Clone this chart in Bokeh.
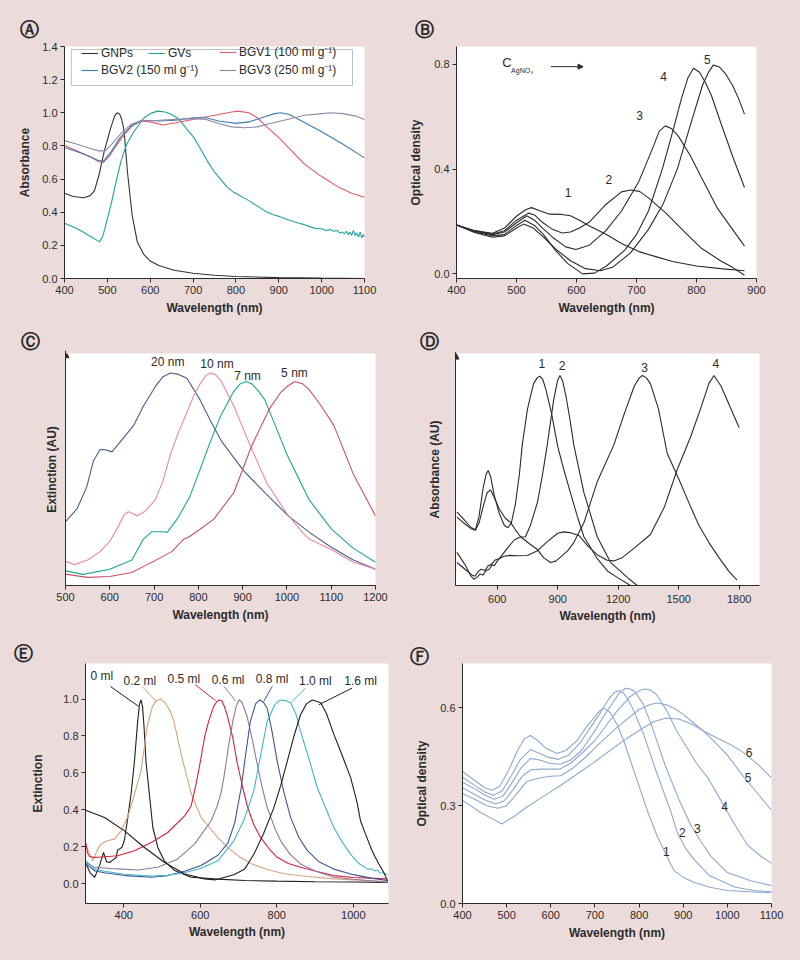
from bokeh.plotting import figure
from bokeh.layouts import column, row
from bokeh.models import (FixedTicker, NumeralTickFormatter, Legend, LegendItem,
                          Arrow, NormalHead, BoxAnnotation, Range1d)
from bokeh.embed import file_html
from bokeh.resources import INLINE
from bokeh.core.properties import value

FONT = "Liberation Sans"
BG = "#ecdbdb"
AX = "#2b2b2b"

# ---------------- Panel A ----------------
a_gnp_x = [400, 420, 445, 460, 470, 480, 493, 508, 517, 521, 525, 529, 533, 537, 540, 547, 558, 570, 585, 600, 620, 656, 700, 750, 800, 900, 1000, 1100]
a_gnp_y = [0.515, 0.495, 0.487, 0.50, 0.53, 0.62, 0.77, 0.91, 0.98, 0.995, 1.0, 0.99, 0.965, 0.92, 0.86, 0.64, 0.38, 0.22, 0.145, 0.105, 0.078, 0.05, 0.032, 0.02, 0.012, 0.005, 0.002, 0.0]
a_gv_x = [400, 430, 460, 482, 490, 498, 508, 520, 532, 545, 563, 586, 600, 617, 635, 650, 662, 671, 686, 702, 718, 733, 748, 764, 780, 795, 803, 812, 820, 830, 842, 852, 860, 873, 888, 900, 915, 927, 945, 960, 975, 989, 1000, 1010, 1020, 1028, 1036, 1042, 1048, 1053, 1058, 1062, 1066, 1070, 1074, 1078, 1082, 1086, 1090, 1094, 1097, 1100]
a_gv_y = [0.333, 0.30, 0.255, 0.221, 0.26, 0.34, 0.44, 0.58, 0.71, 0.81, 0.89, 0.97, 0.995, 1.01, 1.005, 0.99, 0.97, 0.95, 0.90, 0.85, 0.78, 0.71, 0.65, 0.60, 0.55, 0.52, 0.51, 0.495, 0.485, 0.47, 0.45, 0.435, 0.42, 0.40, 0.385, 0.375, 0.36, 0.35, 0.335, 0.325, 0.31, 0.30, 0.30, 0.29, 0.295, 0.285, 0.29, 0.275, 0.28, 0.27, 0.285, 0.265, 0.28, 0.26, 0.29, 0.26, 0.275, 0.25, 0.28, 0.245, 0.265, 0.25]
a_b1_x = [400, 430, 460, 480, 490, 505, 520, 540, 560, 580, 600, 630, 660, 690, 720, 760, 790, 805, 830, 850, 870, 900, 930, 960, 1000, 1040, 1070, 1100]
a_b1_y = [0.803, 0.77, 0.735, 0.705, 0.70, 0.74, 0.80, 0.87, 0.925, 0.95, 0.945, 0.926, 0.94, 0.955, 0.97, 0.99, 1.005, 1.01, 1.0, 0.97, 0.92, 0.85, 0.77, 0.69, 0.615, 0.55, 0.515, 0.49]
a_b2_x = [400, 430, 460, 480, 492, 510, 530, 555, 580, 620, 660, 700, 730, 760, 800, 830, 860, 890, 905, 925, 950, 1000, 1050, 1100]
a_b2_y = [0.79, 0.765, 0.735, 0.71, 0.71, 0.77, 0.85, 0.92, 0.955, 0.95, 0.955, 0.97, 0.97, 0.95, 0.936, 0.945, 0.97, 0.995, 1.0, 0.99, 0.955, 0.885, 0.81, 0.728]
a_b3_x = [400, 430, 460, 480, 495, 510, 530, 555, 580, 620, 660, 700, 730, 760, 790, 820, 850, 880, 920, 960, 1000, 1020, 1050, 1080, 1100]
a_b3_y = [0.832, 0.81, 0.785, 0.77, 0.77, 0.81, 0.87, 0.93, 0.952, 0.955, 0.96, 0.965, 0.96, 0.935, 0.915, 0.91, 0.915, 0.935, 0.96, 0.985, 0.995, 1.0, 0.995, 0.98, 0.96]
a_names = ["GNPs", "GVs", "BGV1 (100 ml g\u207b\u00b9)", "BGV2 (150 ml g\u207b\u00b9)", "BGV3 (250 ml g\u207b\u00b9)"]
a_colors = ["#333333", "#23a0a0", "#e05a68", "#3f7db0", "#8f88a6"]
a_yticks = [0.0, 0.2, 0.4, 0.6, 0.8, 1.0, 1.2, 1.4]
a_xticks = [400, 500, 600, 700, 800, 900, 1000, 1100]

# ---------------- Panel B ----------------
b1_x = [400, 430, 460, 480, 500, 515, 525, 540, 555, 575, 590, 605, 620, 650, 675, 704, 732, 760, 800, 840, 880]
b1_y = [0.187, 0.165, 0.155, 0.175, 0.22, 0.245, 0.253, 0.24, 0.228, 0.227, 0.222, 0.205, 0.185, 0.15, 0.116, 0.085, 0.066, 0.047, 0.03, 0.02, 0.012]
b2_x = [400, 430, 460, 480, 500, 520, 530, 543, 560, 576, 590, 605, 621, 649, 675, 690, 705, 720, 750, 780, 807, 840, 860, 880]
b2_y = [0.187, 0.165, 0.152, 0.165, 0.205, 0.232, 0.225, 0.197, 0.17, 0.156, 0.16, 0.175, 0.197, 0.265, 0.313, 0.32, 0.315, 0.29, 0.23, 0.16, 0.10, 0.05, 0.025, -0.005]
b3_x = [400, 430, 460, 480, 500, 517, 530, 543, 560, 582, 599, 621, 649, 675, 704, 727, 738, 748, 758, 770, 790, 810, 835, 860, 880]
b3_y = [0.187, 0.163, 0.15, 0.16, 0.195, 0.222, 0.205, 0.176, 0.14, 0.103, 0.093, 0.109, 0.165, 0.24, 0.353, 0.48, 0.545, 0.565, 0.555, 0.525, 0.45, 0.36, 0.25, 0.17, 0.106]
b4_x = [400, 430, 460, 480, 500, 514, 530, 545, 565, 585, 610, 630, 650, 680, 700, 720, 743, 760, 775, 786, 795, 805, 815, 825, 840, 860, 880]
b4_y = [0.187, 0.16, 0.145, 0.15, 0.185, 0.205, 0.185, 0.15, 0.09, 0.04, 0.0, 0.003, 0.03, 0.09, 0.15, 0.24, 0.40, 0.54, 0.67, 0.75, 0.785, 0.77, 0.73, 0.68, 0.58, 0.45, 0.33]
b5_x = [400, 430, 460, 480, 500, 512, 528, 545, 565, 590, 615, 640, 660, 690, 720, 745, 768, 790, 810, 820, 828, 838, 848, 860, 870, 880]
b5_y = [0.187, 0.158, 0.14, 0.145, 0.175, 0.19, 0.175, 0.14, 0.095, 0.05, 0.02, 0.012, 0.025, 0.08, 0.17, 0.27, 0.40, 0.57, 0.72, 0.77, 0.797, 0.79, 0.765, 0.72, 0.67, 0.61]
b_lab_text = ["1", "2", "3", "4", "5"]
b_lab_x = [586, 654, 705, 745, 818]
b_lab_y = [0.311, 0.361, 0.606, 0.755, 0.82]
b_yticks = [0.0, 0.4, 0.8]
b_xticks = [400, 500, 600, 700, 800, 900]

# ---------------- Panel C ----------------
c20_x = [500, 526, 548, 563, 578, 590, 605, 624, 654, 676, 703, 720, 737, 755, 774, 804, 830, 853, 902, 950, 1003, 1050, 1100, 1150, 1200]
c20_y = [0.275, 0.33, 0.425, 0.537, 0.586, 0.585, 0.576, 0.62, 0.69, 0.774, 0.858, 0.90, 0.916, 0.91, 0.893, 0.80, 0.70, 0.62, 0.495, 0.40, 0.30, 0.23, 0.165, 0.11, 0.07]
c10_x = [500, 520, 550, 578, 600, 616, 633, 642, 652, 661, 680, 703, 720, 737, 755, 774, 790, 804, 817, 827, 838, 850, 880, 920, 955, 1000, 1030, 1050, 1100, 1150, 1200]
c10_y = [0.105, 0.09, 0.11, 0.146, 0.19, 0.244, 0.307, 0.318, 0.31, 0.30, 0.32, 0.37, 0.45, 0.565, 0.66, 0.746, 0.82, 0.87, 0.905, 0.916, 0.91, 0.886, 0.774, 0.59, 0.44, 0.31, 0.24, 0.20, 0.155, 0.10, 0.07]
c7_x = [500, 540, 600, 650, 676, 695, 712, 730, 752, 780, 800, 825, 850, 880, 895, 908, 920, 935, 950, 980, 1000, 1050, 1100, 1150, 1200]
c7_y = [0.063, 0.048, 0.07, 0.11, 0.20, 0.232, 0.232, 0.23, 0.286, 0.38, 0.48, 0.61, 0.73, 0.837, 0.87, 0.879, 0.87, 0.84, 0.80, 0.66, 0.565, 0.37, 0.244, 0.16, 0.10]
c5_x = [500, 550, 600, 650, 684, 700, 740, 767, 775, 800, 835, 880, 920, 960, 985, 1000, 1017, 1035, 1050, 1075, 1106, 1150, 1200]
c5_y = [0.049, 0.035, 0.039, 0.056, 0.09, 0.105, 0.146, 0.20, 0.205, 0.237, 0.286, 0.40, 0.60, 0.76, 0.83, 0.857, 0.879, 0.87, 0.844, 0.78, 0.69, 0.48, 0.30]
c_colors = ["#4d5b8c", "#e58aa0", "#1fa58c", "#c8506c"]
c_lab_text = ["20 nm", "10 nm", "7 nm", "5 nm"]
c_lab_x = [731, 842, 911, 1017]
c_lab_y = [0.962, 0.953, 0.902, 0.918]
c_xticks = [500, 600, 700, 800, 900, 1000, 1100, 1200]

# ---------------- Panel D ----------------
d1_x = [400, 440, 470, 492, 510, 530, 545, 555, 567, 585, 610, 635, 653, 670, 690, 710, 724, 750, 780, 798, 811, 825, 840, 870, 900, 930, 963, 1000, 1030, 1096, 1150, 1195, 1261]
d1_y = [0.317, 0.28, 0.25, 0.24, 0.30, 0.42, 0.48, 0.496, 0.47, 0.39, 0.31, 0.26, 0.249, 0.27, 0.35, 0.48, 0.605, 0.76, 0.87, 0.895, 0.902, 0.89, 0.85, 0.74, 0.60, 0.50, 0.40, 0.29, 0.21, 0.116, 0.06, 0.035, 0.0]
d2_x = [400, 440, 470, 484, 500, 515, 530, 545, 560, 575, 585, 600, 616, 650, 683, 710, 740, 765, 800, 825, 848, 880, 900, 911, 925, 940, 960, 980, 1030, 1096, 1162, 1245, 1294]
d2_y = [0.143, 0.09, 0.04, 0.027, 0.035, 0.05, 0.045, 0.065, 0.07, 0.09, 0.085, 0.105, 0.122, 0.16, 0.195, 0.208, 0.21, 0.26, 0.36, 0.48, 0.605, 0.80, 0.885, 0.905, 0.88, 0.82, 0.72, 0.605, 0.40, 0.21, 0.10, 0.035, 0.0]
d3_x = [400, 440, 470, 492, 510, 530, 550, 567, 585, 610, 640, 666, 690, 716, 760, 798, 830, 864, 890, 914, 950, 980, 1030, 1096, 1178, 1230, 1280, 1305, 1320, 1340, 1360, 1400, 1443, 1500, 1559, 1600, 1650, 1700, 1750, 1790]
d3_y = [0.295, 0.265, 0.245, 0.238, 0.27, 0.34, 0.40, 0.412, 0.38, 0.33, 0.29, 0.272, 0.24, 0.21, 0.18, 0.156, 0.12, 0.099, 0.105, 0.122, 0.15, 0.185, 0.27, 0.447, 0.605, 0.74, 0.86, 0.895, 0.905, 0.895, 0.87, 0.76, 0.57, 0.46, 0.34, 0.26, 0.185, 0.12, 0.06, 0.023]
d4_x = [400, 440, 475, 490, 505, 520, 540, 555, 570, 590, 610, 630, 660, 700, 749, 800, 850, 900, 930, 960, 1007, 1050, 1100, 1145, 1178, 1220, 1278, 1360, 1430, 1493, 1559, 1608, 1650, 1675, 1710, 1750, 1800]
d4_y = [0.099, 0.07, 0.045, 0.04, 0.06, 0.07, 0.065, 0.085, 0.09, 0.11, 0.115, 0.125, 0.13, 0.128, 0.129, 0.15, 0.19, 0.225, 0.231, 0.228, 0.214, 0.17, 0.13, 0.109, 0.106, 0.12, 0.16, 0.22, 0.34, 0.50, 0.64, 0.76, 0.87, 0.905, 0.86, 0.78, 0.68]
d_lab_text = ["1", "2", "3", "4"]
d_lab_x = [821, 922, 1331, 1684]
d_lab_y = [0.959, 0.948, 0.939, 0.955]
d_xticks = [600, 900, 1200, 1500, 1800]

# ---------------- Panel E ----------------
e00_x = [300, 312, 324, 337, 347, 355, 363, 372, 380, 384, 390, 396, 402, 410, 419, 428, 436, 441, 445, 449, 453, 458, 467, 476, 489, 506, 533, 576, 646, 716, 800, 900, 1000, 1090]
e00_y = [0.115, 0.06, 0.036, 0.10, 0.17, 0.12, 0.116, 0.13, 0.143, 0.183, 0.19, 0.20, 0.24, 0.35, 0.485, 0.664, 0.87, 0.97, 0.995, 0.96, 0.85, 0.664, 0.485, 0.305, 0.197, 0.125, 0.072, 0.036, 0.026, 0.018, 0.015, 0.012, 0.01, 0.008]
e02_x = [300, 305, 319, 330, 340, 356, 376, 393, 410, 428, 445, 461, 475, 485, 496, 508, 520, 531, 550, 565, 576, 602, 618, 646, 670, 700, 731, 780, 819, 880, 949, 1020, 1090]
e02_y = [0.21, 0.19, 0.125, 0.18, 0.215, 0.233, 0.242, 0.287, 0.36, 0.485, 0.61, 0.85, 0.96, 0.99, 1.0, 0.98, 0.94, 0.88, 0.70, 0.58, 0.49, 0.36, 0.32, 0.25, 0.20, 0.15, 0.11, 0.075, 0.055, 0.04, 0.027, 0.02, 0.013]
e05_x = [300, 302, 305, 310, 323, 350, 384, 428, 472, 515, 559, 576, 589, 600, 612, 622, 635, 643, 649, 656, 662, 670, 685, 697, 711, 723, 740, 758, 780, 801, 830, 862, 900, 949, 1000, 1089]
e05_y = [0.224, 0.21, 0.17, 0.15, 0.143, 0.147, 0.152, 0.179, 0.224, 0.278, 0.368, 0.42, 0.54, 0.66, 0.80, 0.88, 0.96, 0.985, 0.995, 0.99, 0.965, 0.916, 0.79, 0.65, 0.52, 0.42, 0.32, 0.25, 0.19, 0.144, 0.11, 0.09, 0.07, 0.045, 0.035, 0.027]
e06_x = [300, 323, 384, 437, 489, 541, 585, 628, 644, 654, 662, 672, 685, 694, 701, 708, 715, 723, 736, 749, 762, 775, 795, 810, 835, 862, 900, 949, 1000, 1089]
e06_y = [0.116, 0.09, 0.081, 0.075, 0.09, 0.135, 0.215, 0.34, 0.42, 0.49, 0.58, 0.72, 0.88, 0.96, 0.996, 0.985, 0.95, 0.90, 0.78, 0.646, 0.52, 0.413, 0.30, 0.233, 0.16, 0.108, 0.07, 0.036, 0.025, 0.009]
e08_x = [300, 325, 350, 402, 472, 515, 559, 602, 646, 672, 690, 707, 720, 731, 745, 756, 766, 775, 788, 801, 818, 836, 858, 880, 910, 949, 1000, 1050, 1089]
e08_y = [0.11, 0.07, 0.06, 0.045, 0.036, 0.045, 0.068, 0.10, 0.155, 0.22, 0.33, 0.52, 0.72, 0.88, 0.975, 0.995, 0.98, 0.95, 0.82, 0.664, 0.50, 0.36, 0.25, 0.18, 0.12, 0.08, 0.05, 0.03, 0.018]
e10_x = [300, 325, 350, 402, 472, 515, 559, 602, 646, 688, 715, 740, 760, 775, 795, 805, 814, 825, 836, 850, 862, 885, 906, 930, 949, 970, 993, 1015, 1037, 1050, 1055, 1063, 1070, 1080, 1090]
e10_y = [0.125, 0.08, 0.068, 0.052, 0.042, 0.047, 0.06, 0.085, 0.125, 0.233, 0.35, 0.503, 0.72, 0.88, 0.97, 0.99, 0.995, 0.99, 0.98, 0.92, 0.826, 0.67, 0.52, 0.40, 0.305, 0.23, 0.16, 0.11, 0.08, 0.08, 0.07, 0.075, 0.06, 0.058, 0.05]
e16_x = [300, 350, 402, 454, 507, 559, 611, 640, 688, 716, 740, 765, 792, 810, 827, 845, 862, 878, 893, 915, 930, 949, 970, 993, 1010, 1019, 1030, 1045, 1056, 1067, 1080, 1090]
e16_y = [0.398, 0.359, 0.287, 0.197, 0.116, 0.054, 0.027, 0.022, 0.05, 0.08, 0.16, 0.27, 0.41, 0.53, 0.66, 0.80, 0.915, 0.975, 0.995, 0.98, 0.92, 0.81, 0.70, 0.575, 0.44, 0.34, 0.28, 0.20, 0.15, 0.108, 0.06, 0.015]
e_names = ["0 ml", "0.2 ml", "0.5 ml", "0.6 ml", "0.8 ml", "1.0 ml", "1.6 ml"]
e_colors = ["#1e1e1e", "#d9a27e", "#d8223c", "#8e78a2", "#3b5596", "#45b6c6", "#1e1e1e"]
e_lab_x = [343, 442, 557, 673, 788, 901, 1019]
e_lab_y = [1.122, 1.095, 1.11, 1.104, 1.11, 1.099, 1.095]
e_lead_x0 = [365, 448, 587, 662, 788, 875, 997]
e_lead_y0 = [1.068, 1.068, 1.077, 1.068, 1.068, 1.059, 1.059]
e_lead_x1 = [439, 483, 640, 692, 766, 836, 910]
e_lead_y1 = [0.96, 0.991, 0.991, 0.991, 0.987, 0.978, 0.969]
e_yticks = [0.0, 0.2, 0.4, 0.6, 0.8, 1.0]
e_xticks = [400, 600, 800, 1000]

# ---------------- Panel F ----------------
f1_x = [400, 430, 450, 467, 485, 505, 525, 540, 554, 570, 590, 614, 635, 660, 680, 697, 710, 720, 735, 750, 765, 780, 800, 820, 840, 856, 870, 880, 900, 924, 960, 1000, 1050, 1100]
f1_y = [0.405, 0.375, 0.355, 0.347, 0.36, 0.41, 0.47, 0.505, 0.515, 0.50, 0.475, 0.46, 0.47, 0.50, 0.54, 0.568, 0.59, 0.60, 0.585, 0.55, 0.50, 0.44, 0.36, 0.28, 0.21, 0.165, 0.125, 0.10, 0.08, 0.065, 0.05, 0.04, 0.036, 0.033]
f2_x = [400, 430, 450, 470, 490, 510, 530, 554, 575, 595, 618, 640, 665, 690, 710, 730, 745, 754, 765, 775, 785, 810, 840, 870, 887, 905, 924, 960, 1018, 1060, 1100]
f2_y = [0.387, 0.36, 0.342, 0.332, 0.345, 0.39, 0.44, 0.472, 0.46, 0.448, 0.442, 0.455, 0.49, 0.54, 0.58, 0.625, 0.648, 0.653, 0.645, 0.625, 0.60, 0.52, 0.40, 0.29, 0.216, 0.17, 0.136, 0.085, 0.05, 0.04, 0.036]
f3_x = [400, 430, 450, 472, 492, 512, 532, 554, 575, 597, 620, 645, 670, 700, 720, 740, 755, 769, 780, 790, 810, 830, 860, 890, 917, 940, 962, 1000, 1053, 1100]
f3_y = [0.372, 0.35, 0.333, 0.32, 0.33, 0.37, 0.415, 0.445, 0.44, 0.43, 0.427, 0.44, 0.47, 0.53, 0.575, 0.615, 0.645, 0.66, 0.658, 0.65, 0.61, 0.54, 0.42, 0.32, 0.241, 0.19, 0.146, 0.095, 0.07, 0.055]
f4_x = [400, 430, 450, 475, 495, 515, 535, 555, 580, 600, 620, 645, 670, 700, 725, 750, 780, 800, 811, 825, 840, 864, 885, 909, 930, 955, 985, 1015, 1045, 1076, 1100]
f4_y = [0.355, 0.333, 0.318, 0.305, 0.315, 0.35, 0.39, 0.41, 0.412, 0.412, 0.412, 0.43, 0.46, 0.50, 0.545, 0.59, 0.635, 0.652, 0.658, 0.655, 0.64, 0.588, 0.53, 0.477, 0.43, 0.387, 0.317, 0.246, 0.18, 0.145, 0.123]
f5_x = [400, 430, 455, 480, 500, 525, 546, 575, 600, 622, 650, 680, 710, 750, 800, 825, 841, 860, 880, 900, 925, 947, 975, 1000, 1038, 1070, 1100]
f5_y = [0.337, 0.318, 0.30, 0.292, 0.30, 0.34, 0.375, 0.385, 0.39, 0.392, 0.415, 0.45, 0.49, 0.54, 0.595, 0.61, 0.615, 0.61, 0.598, 0.58, 0.552, 0.528, 0.49, 0.455, 0.387, 0.335, 0.286]
f6_x = [400, 440, 470, 489, 520, 546, 585, 622, 660, 697, 735, 773, 805, 834, 860, 890, 920, 947, 980, 1010, 1038, 1070, 1100]
f6_y = [0.317, 0.28, 0.258, 0.244, 0.27, 0.296, 0.33, 0.362, 0.397, 0.432, 0.47, 0.507, 0.535, 0.558, 0.568, 0.566, 0.55, 0.528, 0.505, 0.485, 0.462, 0.425, 0.385]
f_color = "#8ea8d2"
f_lab_text = ["1", "2", "3", "4", "5", "6"]
f_lab_x = [862, 898, 932, 994, 1047, 1049]
f_lab_y = [0.161, 0.219, 0.231, 0.296, 0.385, 0.462]
f_yticks = [0.0, 0.3, 0.6]
f_xticks = [400, 500, 600, 700, 800, 900, 1000, 1100]

CIRCLED = {"A": "\u24b6", "B": "\u24b7", "C": "\u24b8", "D": "\u24b9", "E": "\u24ba", "F": "\u24bb"}


def make_fig(w, h, xr, yr, left, right, top, bottom, letter, offset, standoff):
    p = figure(width=w, height=h, x_range=Range1d(*xr), y_range=Range1d(*yr),
               output_backend="svg", toolbar_location=None,
               min_border_left=left, min_border_right=right,
               min_border_top=top, min_border_bottom=bottom)
    p.title.text = CIRCLED[letter]
    p.title.text_font = "DejaVu Sans"
    p.title.text_font_size = "19px"
    p.title.text_font_style = "bold"
    p.title.text_color = AX
    p.title.align = "left"
    p.title.offset = offset
    p.title.standoff = standoff
    p.border_fill_color = BG
    p.background_fill_color = "white"
    p.outline_line_color = None
    p.xgrid.visible = False
    p.ygrid.visible = False
    for ax in p.axis:
        ax.axis_line_color = AX
        ax.major_tick_line_color = AX
        ax.major_tick_in = 0
        ax.major_tick_out = 4
        ax.minor_tick_line_color = None
        ax.major_label_text_font = FONT
        ax.major_label_text_font_size = "11px"
        ax.major_label_text_color = AX
        ax.major_label_standoff = 3
        ax.axis_label_text_font = FONT
        ax.axis_label_text_font_size = "12px"
        ax.axis_label_text_font_style = "bold"
        ax.axis_label_text_color = AX
        ax.axis_label_standoff = 4
    return p


def ticks(ax, vals, fmt=None):
    ax.ticker = FixedTicker(ticks=vals)
    if fmt:
        ax.formatter = NumeralTickFormatter(format=fmt)


def labels(p, xs, ys, texts, size="12px"):
    p.text(x=xs, y=ys, text=texts, text_font=value(FONT), text_font_size=size,
           text_color=AX, text_align="center", text_baseline="middle")


W = 392
LW = 1.1

# ---- A ----
pA = make_fig(W, 314, (400, 1100), (0, 1.4), 56, 36, 32, 44, "A", -45, 13)
ticks(pA.xaxis[0], a_xticks)
ticks(pA.yaxis[0], a_yticks, "0.0")
pA.xaxis.axis_label = "Wavelength (nm)"
pA.yaxis.axis_label = "Absorbance"
pA.yaxis.axis_label_standoff = 7
rA = []
for xs, ys, col in zip([a_gnp_x, a_gv_x, a_b1_x, a_b2_x, a_b3_x],
                       [a_gnp_y, a_gv_y, a_b1_y, a_b2_y, a_b3_y], a_colors):
    rA.append(pA.line(xs, ys, line_color=col, line_width=LW))
pA.add_layout(BoxAnnotation(left=416, right=1072, bottom=1.165, top=1.382,
                            fill_color="white", fill_alpha=1, line_color=AX, line_width=1))
common_leg = dict(orientation="horizontal", padding=0, margin=0, glyph_width=17, glyph_height=14,
                  label_height=14, label_standoff=3, label_text_font=FONT,
                  label_text_font_size="12px", label_text_color=AX,
                  background_fill_alpha=0, border_line_alpha=0, spacing=15)
# legend groups: (item indices, x offset in px from frame left, y offset from frame bottom)
leg_groups = [([0, 1], 17, 218), ([2], 155, 218), ([3], 17, 200), ([4], 155, 200)]
for idx, lx, ly in leg_groups:
    pA.add_layout(Legend(items=[LegendItem(label=a_names[i], renderers=[rA[i]]) for i in idx],
                         location=(lx, ly), **common_leg))

# ---- B ----
pB = make_fig(W, 314, (400, 900), (-0.0176, 0.868), 56, 36, 34, 43, "B", -42, 14)
ticks(pB.xaxis[0], b_xticks)
ticks(pB.yaxis[0], b_yticks, "0.0")
pB.xaxis.axis_label = "Wavelength (nm)"
pB.yaxis.axis_label = "Optical density"
pB.yaxis.axis_label_standoff = 8
for xs, ys in zip([b1_x, b2_x, b3_x, b4_x, b5_x], [b1_y, b2_y, b3_y, b4_y, b5_y]):
    pB.line(xs, ys, line_color=AX, line_width=LW)
labels(pB, b_lab_x, b_lab_y, b_lab_text)
pB.text(x=[484], y=[0.807], text=["C"], text_font=value(FONT), text_font_size="13px",
        text_color=AX, text_align="center", text_baseline="middle")
pB.text(x=[491], y=[0.778], text=["AgNO\u2083"], text_font=value(FONT), text_font_size="7px",
        text_color=AX, text_align="left", text_baseline="middle")
pB.add_layout(Arrow(x_start=557, y_start=0.791, x_end=611, y_end=0.791, line_color=AX,
                    line_width=1, end=NormalHead(size=5, fill_color=AX, line_color=AX)))

# ---- C ----
pC = make_fig(W, 318, (500, 1200), (0, 1), 57, 25, 24, 55, "C", -45, 4)
ticks(pC.xaxis[0], c_xticks)
pC.yaxis.ticker = FixedTicker(ticks=[])
pC.yaxis.major_tick_out = 0
pC.yaxis.major_label_standoff = 0
pC.yaxis.axis_label_standoff = 7
pC.xaxis.axis_label = "Wavelength (nm)"
pC.yaxis.axis_label = "Extinction (AU)"
for xs, ys, col in zip([c20_x, c10_x, c7_x, c5_x], [c20_y, c10_y, c7_y, c5_y], c_colors):
    pC.line(xs, ys, line_color=col, line_width=LW)
labels(pC, c_lab_x, c_lab_y, c_lab_text)
pC.add_layout(Arrow(x_start=500, y_start=0, x_end=500, y_end=1.012, line_color=AX,
                    line_width=1, end=NormalHead(size=7, fill_color=AX, line_color=AX)))

# ---- D ----
pD = make_fig(W, 318, (393, 1901), (0, 1), 55, 33, 31, 42, "D", -36, 4)
ticks(pD.xaxis[0], d_xticks)
pD.yaxis.ticker = FixedTicker(ticks=[])
pD.yaxis.major_tick_out = 0
pD.yaxis.major_label_standoff = 0
pD.yaxis.axis_label_standoff = 14
pD.xaxis.major_label_standoff = 5
pD.xaxis.axis_label_standoff = 3
pD.xaxis.axis_label = "Wavelength (nm)"
pD.yaxis.axis_label = "Absorbance (AU)"
for xs, ys in zip([d1_x, d2_x, d3_x, d4_x], [d1_y, d2_y, d3_y, d4_y]):
    pD.line(xs, ys, line_color=AX, line_width=LW)
labels(pD, d_lab_x, d_lab_y, d_lab_text)
pD.add_layout(Arrow(x_start=393, y_start=0, x_end=393, y_end=1.006, line_color=AX,
                    line_width=1, end=NormalHead(size=7, fill_color=AX, line_color=AX)))

# ---- E ----
pE = make_fig(W, 312, (300, 1092), (-0.106, 1.192), 77, 12, 22, 49, "E", -72, -1)
ticks(pE.xaxis[0], e_xticks)
ticks(pE.yaxis[0], e_yticks, "0.0")
pE.yaxis.axis_label_standoff = 15
pE.xaxis.axis_label_standoff = 3
pE.xaxis.axis_label = "Wavelength (nm)"
pE.yaxis.axis_label = "Extinction"
for xs, ys, col in zip([e00_x, e02_x, e05_x, e06_x, e08_x, e10_x, e16_x],
                       [e00_y, e02_y, e05_y, e06_y, e08_y, e10_y, e16_y], e_colors):
    pE.line(xs, ys, line_color=col, line_width=LW)
pE.segment(x0=e_lead_x0, y0=e_lead_y0, x1=e_lead_x1, y1=e_lead_y1, line_color=e_colors, line_width=1)
labels(pE, e_lab_x, e_lab_y, e_names)

# ---- F ----
pF = make_fig(W, 312, (400, 1100), (0, 0.736), 62, 21, 21, 47, "F", -53, -6)
ticks(pF.xaxis[0], f_xticks)
ticks(pF.yaxis[0], f_yticks, "0.0")
pF.yaxis.axis_label_standoff = 8
pF.xaxis.axis_label = "Wavelength (nm)"
pF.yaxis.axis_label = "Optical density"
for xs, ys in zip([f1_x, f2_x, f3_x, f4_x, f5_x, f6_x], [f1_y, f2_y, f3_y, f4_y, f5_y, f6_y]):
    pF.line(xs, ys, line_color=f_color, line_width=LW)
labels(pF, f_lab_x, f_lab_y, f_lab_text)

layout = column(row(pA, pB), row(pC, pD), row(pE, pF))

html = file_html(layout, INLINE)
html = html.replace("</head>",
                    "<style>html {background:%s !important;} body {background:%s !important; padding:8px !important;}</style></head>" % (BG, BG), 1)
open("out.html", "w").write(html)
